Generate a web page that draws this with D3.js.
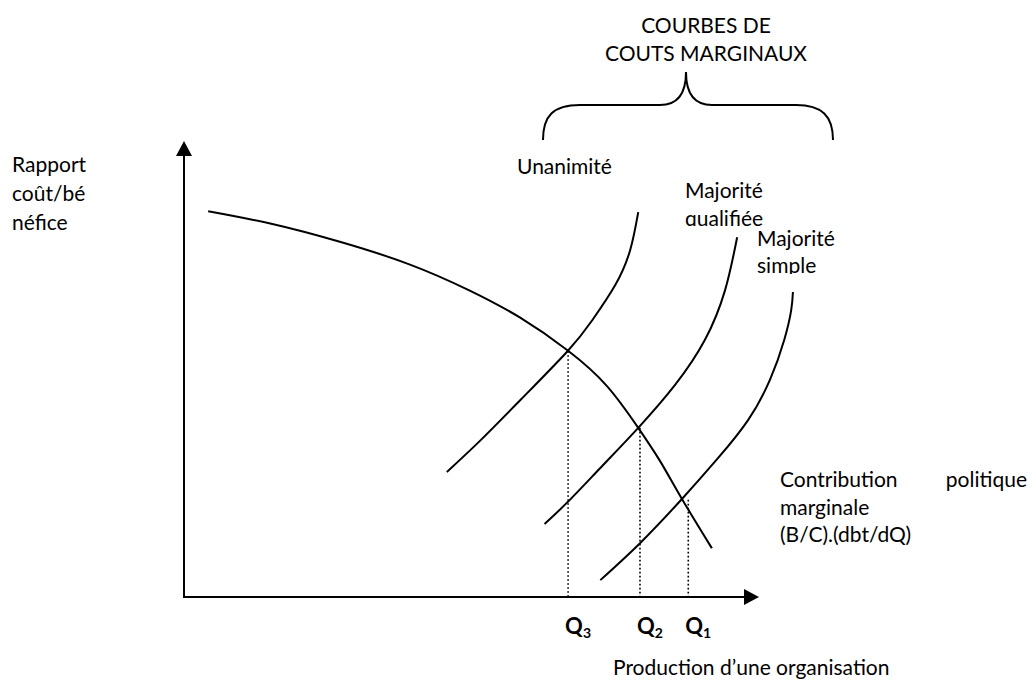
<!DOCTYPE html>
<html>
<head>
<meta charset="utf-8">
<script src="https://cdn.jsdelivr.net/npm/d3@7"></script>
<style>
  html,body{margin:0;padding:0;background:#fff;}
  svg{display:block;}
  text{font-family:Lato,"Open Sans",sans-serif;font-size:21px;fill:#000;}
  .q{font-weight:bold;}
</style>
</head>
<body>
<div id="chart"></div>
<script>
// schematic values (arbitrary units, axis runs 0..100 both ways)
var demandX  = [4.2, 15.0, 27.1, 39.3, 49.7, 58.4, 66.8, 73.6, 79.0, 82.8, 86.6, 91.8];
var demandY  = [84.6, 81.9, 77.9, 72.9, 67.2, 61.3, 54.0, 46.2, 37.1, 29.8, 21.5, 10.7];
var unanX    = [45.7, 51.6, 58.5, 66.7, 71.0, 75.0, 77.6, 79.0];
var unanY    = [27.4, 34.4, 43.2, 53.9, 60.7, 68.4, 76.1, 84.4];
var qualX    = [62.7, 66.7, 72.4, 79.0, 85.4, 90.6, 94.1, 96.2];
var qualY    = [16.0, 20.8, 28.3, 37.1, 46.5, 56.4, 67.3, 78.9];
var simpleX  = [72.4, 79.3, 86.6, 92.9, 98.1, 101.9, 104.4, 105.6, 105.9];
var simpleY  = [3.7, 11.8, 21.5, 30.5, 38.8, 47.6, 56.4, 62.9, 66.9];
var qNames   = ["Q", "Q", "Q"];
var qSubs    = ["3", "2", "1"];
var qX       = [66.8, 79.3, 87.7];
var qY       = [53.9, 37.1, 21.3];

var W=1034, H=681;
var svg=d3.select("#chart").append("svg").attr("width",W).attr("height",H);

var x=d3.scaleLinear().domain([0,100]).range([184,759]);
var y=d3.scaleLinear().domain([0,100]).range([597,141]);

function pts(xs,ys){return xs.map(function(v,i){return [v,ys[i]];});}
var line=d3.line().x(function(d){return x(d[0]);}).y(function(d){return y(d[1]);}).curve(d3.curveNatural);

// axes
svg.append("line").attr("x1",x(0)).attr("x2",x(0)).attr("y1",y(0)).attr("y2",y(100)+12)
   .attr("stroke","#000").attr("stroke-width",2);
svg.append("line").attr("x1",x(0)-1).attr("x2",x(100)-12).attr("y1",y(0)).attr("y2",y(0))
   .attr("stroke","#000").attr("stroke-width",2);
svg.append("path").attr("d","M"+x(0)+","+y(100)+" L"+(x(0)-8)+","+(y(100)+15)+" L"+(x(0)+8)+","+(y(100)+15)+"Z").attr("fill","#000");
svg.append("path").attr("d","M"+x(100)+","+y(0)+" L"+(x(100)-15)+","+(y(0)-8)+" L"+(x(100)-15)+","+(y(0)+8)+"Z").attr("fill","#000");

// dotted guides to the x axis
svg.selectAll("line.guide").data(qX).enter().append("line").attr("class","guide")
   .attr("x1",function(d){return x(d);}).attr("x2",function(d){return x(d);})
   .attr("y1",function(d,i){return y(qY[i]);}).attr("y2",y(0))
   .attr("stroke","#000").attr("stroke-width",1.6).attr("stroke-dasharray","1.6 2.4");

// curves
[pts(demandX,demandY),pts(unanX,unanY),pts(qualX,qualY),pts(simpleX,simpleY)].forEach(function(c){
  svg.append("path").datum(c).attr("fill","none").attr("stroke","#000").attr("stroke-width",2).attr("d",line);
});

// Q labels
var ql=svg.selectAll("text.q").data(qX).enter().append("text").attr("class","q")
   .attr("x",function(d){return x(d)-3;}).attr("y",634).style("font-size","22px");
ql.append("tspan").text(function(d,i){return qNames[i];});
ql.append("tspan").attr("dy",4).style("font-size","14px").text(function(d,i){return qSubs[i];});

// brace + title
svg.append("path").attr("fill","none").attr("stroke","#000").attr("stroke-width",2)
   .attr("d","M543,140 C543,116 553,105 580,105 L660,105 C676,105 686,96 686,72 C686,96 696,105 712,105 L796,105 C822,105 833,116 833,140");
svg.append("text").attr("x",706).attr("y",33).attr("text-anchor","middle").text("COURBES DE");
svg.append("text").attr("x",706).attr("y",61).attr("text-anchor","middle").text("COUTS MARGINAUX");

// curve labels
svg.append("text").attr("x",517).attr("y",174).text("Unanimité");
svg.append("clipPath").attr("id","clipQ").append("rect").attr("x",680).attr("y",170).attr("width",100).attr("height",56);
svg.append("clipPath").attr("id","clipS").append("rect").attr("x",752).attr("y",220).attr("width",100).attr("height",54);
var gq=svg.append("g").attr("clip-path","url(#clipQ)");
gq.append("text").attr("x",685).attr("y",198).text("Majorité");
gq.append("text").attr("x",685).attr("y",226).text("qualifiée");
var gs=svg.append("g").attr("clip-path","url(#clipS)");
gs.append("text").attr("x",757).attr("y",246).text("Majorité");
gs.append("text").attr("x",757).attr("y",273).text("simple");

// y axis title
svg.append("text").attr("x",12).attr("y",172).text("Rapport");
svg.append("text").attr("x",12).attr("y",201).text("coût/bé");
svg.append("text").attr("x",12).attr("y",230).text("néfice");

// demand curve label (justified first line)
svg.append("text").attr("x",780).attr("y",487).text("Contribution");
svg.append("text").attr("x",1027).attr("y",487).attr("text-anchor","end").text("politique");
svg.append("text").attr("x",780).attr("y",515).text("marginale");
svg.append("text").attr("x",780).attr("y",542).text("(B/C).(dbt/dQ)");

// x axis title
svg.append("text").attr("x",613).attr("y",675).text("Production d’une organisation");
</script>
</body>
</html>
